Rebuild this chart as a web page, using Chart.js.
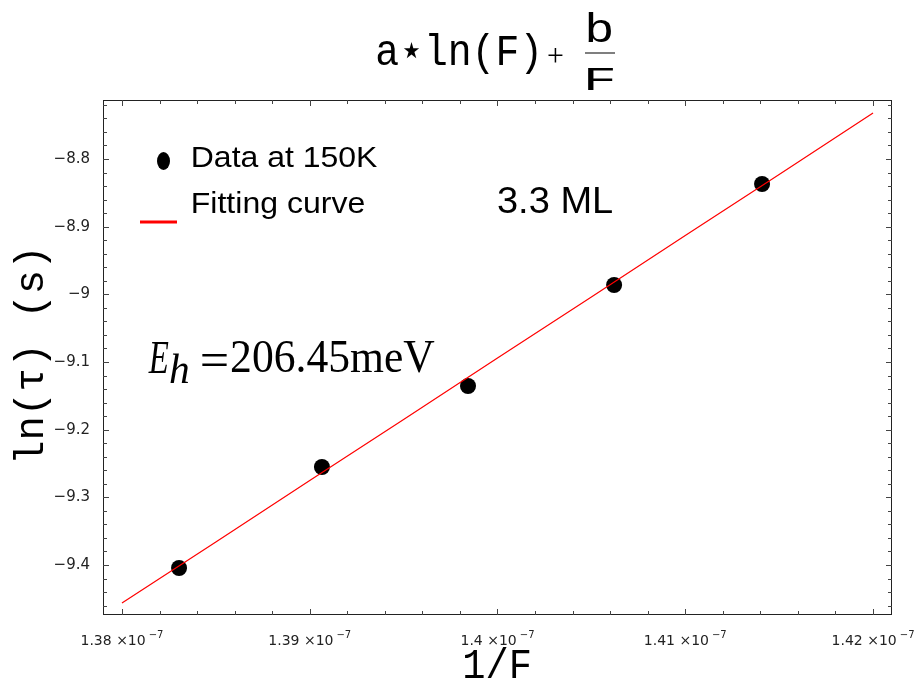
<!DOCTYPE html>
<html><head><meta charset="utf-8">
<script src="https://cdn.jsdelivr.net/npm/chart.js@4/dist/chart.umd.min.js"></script>
<style>html,body{margin:0;padding:0;background:#fff;overflow:hidden}</style>
</head><body>
<canvas id="c" width="920" height="682"></canvas>
<script>
// ---- data (x in units of 1e-7) ----
const xTicks = [1.38, 1.39, 1.40, 1.41, 1.42];
const xTickLabels = ['1.38', '1.39', '1.4', '1.41', '1.42'];
const yTicks = [-9.4, -9.3, -9.2, -9.1, -9.0, -8.9, -8.8];
const yTickLabels = ['\u22129.4', '\u22129.3', '\u22129.2', '\u22129.1', '\u22129', '\u22128.9', '\u22128.8'];
const dataX = [1.38304, 1.39065, 1.39843, 1.40621, 1.41409];
const dataY = [-9.4044, -9.2552, -9.1355, -8.9862, -8.8369];
const fitX = [1.380, 1.385, 1.390, 1.395, 1.400, 1.405, 1.410, 1.415, 1.420];
const fitY = [-9.456, -9.366, -9.275, -9.185, -9.094, -9.004, -8.913, -8.823, -8.732];

function sizeFor(ctx, family, style, ch, target) {
  ctx.font = style + ' 100px ' + family;
  const m = ctx.measureText(ch);
  return target / m.actualBoundingBoxAscent * 100;
}
// ink spans [left,right], baseline at base, cap height taken from ref char
function drawFit(ctx, text, family, style, ch, cap, left, right, base) {
  const size = sizeFor(ctx, family, style, ch, cap);
  ctx.font = style + ' ' + size + 'px ' + family;
  ctx.textAlign = 'left'; ctx.textBaseline = 'alphabetic';
  const m = ctx.measureText(text);
  const w = m.actualBoundingBoxLeft + m.actualBoundingBoxRight;
  const sx = (right != null) ? (right - left) / w : 1;
  ctx.save(); ctx.translate(left, base); ctx.scale(sx, 1);
  ctx.fillText(text, m.actualBoundingBoxLeft, 0);
  ctx.restore();
}
// ink fits the box [left,right]x[top,bottom]
function drawBox(ctx, text, family, style, left, right, top, bottom) {
  ctx.font = style + ' 100px ' + family;
  ctx.textAlign = 'left'; ctx.textBaseline = 'alphabetic';
  let m = ctx.measureText(text);
  const h = m.actualBoundingBoxAscent + m.actualBoundingBoxDescent;
  const size = (bottom - top) / h * 100;
  ctx.font = style + ' ' + size + 'px ' + family;
  m = ctx.measureText(text);
  const w = m.actualBoundingBoxLeft + m.actualBoundingBoxRight;
  const sx = (right - left) / w;
  ctx.save(); ctx.translate(left, top + m.actualBoundingBoxAscent); ctx.scale(sx, 1);
  ctx.fillText(text, m.actualBoundingBoxLeft, 0);
  ctx.restore();
}

const decor = {
  id: 'decor',
  afterDraw(chart) {
    const ctx = chart.ctx, a = chart.chartArea;
    const xs = chart.scales.x, ys = chart.scales.y;
    ctx.save();
    // frame
    ctx.strokeStyle = '#222'; ctx.lineWidth = 1;
    ctx.strokeRect(Math.round(a.left) + 0.5, Math.round(a.top) + 0.5, Math.round(a.right - a.left) - 1, Math.round(a.bottom - a.top) - 1);
    // ticks (inward, all four sides)
    ctx.strokeStyle = '#444';
    ctx.beginPath();
    for (let i = 1380; i <= 1420; i += 2) {
      const v = i / 1000, len = (i % 10 === 0) ? 6 : 4;
      const px = Math.round(xs.getPixelForValue(v)) + 0.5;
      ctx.moveTo(px, a.bottom); ctx.lineTo(px, a.bottom - len);
      ctx.moveTo(px, a.top); ctx.lineTo(px, a.top + len);
    }
    for (let i = -946; i <= -872; i += 2) {
      const v = i / 100, len = (i % 10 === 0) ? 6 : 4;
      const py = Math.round(ys.getPixelForValue(v)) + 0.5;
      ctx.moveTo(a.left, py); ctx.lineTo(a.left + len, py);
      ctx.moveTo(a.right, py); ctx.lineTo(a.right - len, py);
    }
    ctx.stroke();
    // y tick labels
    ctx.fillStyle = '#222';
    ctx.font = '15px "DejaVu Sans"'; ctx.textAlign = 'right'; ctx.textBaseline = 'middle';
    yTicks.forEach((v, i) => ctx.fillText(yTickLabels[i], 90, ys.getPixelForValue(v)));
    // x tick labels with superscript exponent
    ctx.textBaseline = 'alphabetic';
    xTicks.forEach((v, i) => {
      const base = xTickLabels[i] + ' \u00d710', sup = '\u22127';
      ctx.font = '14px "DejaVu Sans"'; const w1 = ctx.measureText(base).width;
      ctx.font = '10px "DejaVu Sans"'; const w2 = ctx.measureText(sup).width;
      const tw = w1 + 3 + w2, x0 = xs.getPixelForValue(v) - tw / 2;
      ctx.textAlign = 'left';
      ctx.font = '14px "DejaVu Sans"'; ctx.fillText(base, x0, 645);
      ctx.font = '10px "DejaVu Sans"'; ctx.fillText(sup, x0 + w1 + 3, 638);
    });
    ctx.fillStyle = '#000';
    const mono = '"Liberation Mono"';
    const serif = '"Liberation Serif"';
    const sans = '"Liberation Sans"';
    // title: a*ln(F) + b/F
    drawFit(ctx, 'a\u22c6ln(F)', mono, '', 'F', 30, 377, 537, 65);
    drawBox(ctx, '+', serif, '', 548, 563, 48, 63);
    ctx.fillRect(585, 52.5, 30, 1);
    drawFit(ctx, 'b', mono, '', 'b', 29, 588, 612, 42);
    drawFit(ctx, 'F', mono, '', 'F', 22, 588, 614, 90);
    // x axis title
    drawFit(ctx, '1/F', mono, '', 'F', 28, 465, 530, 678);
    // y axis title (rotated)
    ctx.save(); ctx.translate(43, 460); ctx.rotate(-Math.PI / 2);
    drawFit(ctx, 'ln(\u03c4) (s)', mono, '', 'l', 30, 0, 208, 0);
    ctx.restore();
    // legend
    ctx.beginPath(); ctx.ellipse(163.5, 161, 6.5, 9, 0, 0, Math.PI * 2); ctx.fill();
    ctx.fillStyle = '#ff0000'; ctx.fillRect(140, 220.5, 37, 3);
    ctx.fillStyle = '#000';
    drawFit(ctx, 'Data at 150K', sans, '', 'D', 20, 193, 377, 167);
    drawFit(ctx, 'Fitting curve', sans, '', 'F', 20, 193, 364, 213);
    drawFit(ctx, '3.3 ML', sans, '', 'M', 25, 498, 612, 213);
    // E_h = 206.45meV
    drawBox(ctx, 'E', serif, 'italic', 148, 169, 342, 372);
    drawBox(ctx, 'h', serif, 'italic', 170, 188, 353, 382);
    drawBox(ctx, '=', serif, '', 202, 227, 354, 366);
    drawFit(ctx, '206.45meV', serif, '', '2', 30, 232, 435, 372);
    ctx.restore();
  }
};

new Chart(document.getElementById('c'), {
  type: 'scatter',
  data: {
    datasets: [
      { label: 'Fitting curve', data: fitX.map((x, i) => ({ x: x, y: fitY[i] })), showLine: true,
        borderColor: '#ff0000', borderWidth: 1.2, pointRadius: 0, fill: false, tension: 0 },
      { label: 'Data at 150K', data: dataX.map((x, i) => ({ x: x, y: dataY[i] })),
        backgroundColor: '#000', borderColor: '#000', borderWidth: 0, pointRadius: 8 }
    ]
  },
  options: {
    responsive: false, animation: false, devicePixelRatio: 1, events: [],
    layout: { padding: { top: 100, right: 28, left: 0, bottom: 0 } },
    plugins: { legend: { display: false }, tooltip: { enabled: false }, title: { display: false } },
    scales: {
      x: { type: 'linear', min: 1.37899, max: 1.42101, grid: { display: false }, border: { display: false },
           ticks: { display: false }, afterFit(s) { s.height = 67; } },
      y: { type: 'linear', min: -9.4739, max: -8.7128, grid: { display: false }, border: { display: false },
           ticks: { display: false }, afterFit(s) { s.width = 103; } }
    }
  },
  plugins: [decor]
});
</script>
</body></html>
